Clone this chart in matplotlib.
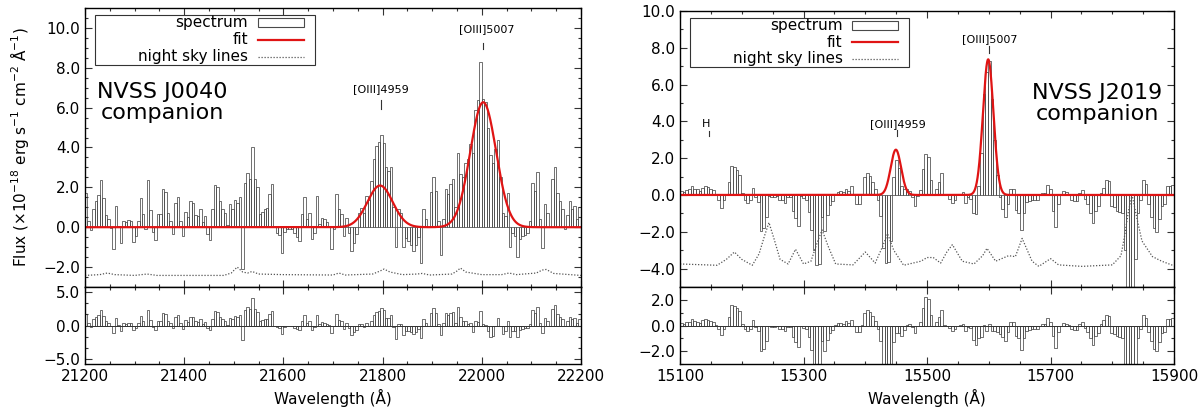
import numpy as np
import matplotlib.pyplot as plt
from matplotlib.ticker import MultipleLocator, AutoMinorLocator, FuncFormatter
from matplotlib.patches import Rectangle

plt.rcParams['font.family'] = ['DejaVu Sans']

# ---- NVSS J0040 companion (left panel) ----
j0040_start = 21200.0
j0040_bin = 5.0
j0040_flux = [
    1.7, 0.33, -0.15, 0.9, 1.3, 1.6, 2.35, 1.45, 0.63, 0.43,
    -0.05, -1.07, 1.07, 0.07, -0.8, 0.33, 0.25, 0.35, 0.3, -0.72,
    -0.43, 0.33, 1.45, 0.65, -0.1, 2.35, 0.85, -0.25, -0.65, 0.65,
    0.65, 1.9, 1.75, 0.7, 0.3, -0.35, 1.2, 1.5, 0.3, -0.45,
    0.75, 0.5, 1.3, 1.2, 0.6, 0.55, 0.9, 0.25, 0.55, -0.35,
    -0.65, 0.9, 2.1, 2.0, 1.3, 0.9, 0.7, 0.1, 1.15, 0.9,
    1.35, 1.2, 1.5, -2.1, 2.23, 2.73, 2.4, 4.0, 2.4, 2.0,
    0.65, 0.77, 0.9, 0.95, 1.65, 2.15, 0.0, -0.27, -0.4, -1.27,
    -0.23, -0.07, -0.1, -0.07, -0.3, -0.5, -0.7, 0.65, 1.53, 0.43,
    0.73, -0.6, -0.27, 1.57, 0.15, 0.48, 0.4, 0.27, 0.07, -1.07,
    -0.1, 1.65, 0.9, 0.65, -0.43, 0.48, -0.27, -1.18, -0.77, -0.35,
    0.73, 0.98, 0.73, 1.57, 1.35, 2.3, 3.4, 4.07, 4.3, 4.65,
    4.23, 3.0, 2.8, 3.0, 1.0, -1.0, 0.9, 0.73, -1.0, -0.55,
    -0.7, -0.9, -1.2, -0.9, -0.5, -1.78, 0.93, 0.43, 0.0, 1.78,
    2.53, 1.8, 0.3, -1.4, 0.4, 1.9, 1.65, 2.15, 2.43, 1.0,
    3.73, 2.65, 2.5, 3.2, 3.4, 4.2, 3.7, 5.9, 6.37, 8.27,
    6.43, 6.3, 5.0, 3.6, 3.2, 3.93, 4.4, 2.5, 0.7, 0.57,
    1.73, -1.0, -0.3, -0.45, -1.5, -0.6, -0.45, -0.4, -0.3, 0.3,
    2.23, 1.8, 2.78, 0.4, -1.05, 1.15, 0.7, 0.0, 2.4, 3.0,
    1.7, 1.3, 0.9, -0.1, 0.6, 1.3, 0.9, 1.07, 0.4, 1.0,
]
# gaussian fit components: [OIII]4959, [OIII]5007
j0040_centres = [21795.0, 22003.0]
j0040_amps = [2.09, 6.27]
j0040_sigmas = [25.5, 26.0]
j0040_ticks = [21200, 21400, 21600, 21800, 22000, 22200]
j0040_sky_wl = [21200, 21230, 21245, 21260, 21300, 21325, 21345, 21400, 21480,
                21495, 21507, 21518, 21528, 21537, 21550, 21600, 21700, 21712,
                21725, 21780, 21795, 21803, 21815, 21840, 21870, 21880, 21895,
                21940, 21950, 21957, 21968, 22000, 22040, 22055, 22070, 22110,
                22122, 22130, 22145, 22200]
j0040_sky = [-2.42, -2.38, -2.3, -2.38, -2.42, -2.35, -2.42, -2.42, -2.42,
             -2.3, -2.0, -2.25, -2.3, -2.22, -2.35, -2.38, -2.4, -2.3,
             -2.4, -2.35, -2.2, -2.1, -2.25, -2.38, -2.35, -2.32, -2.4,
             -2.35, -2.2, -2.05, -2.25, -2.38, -2.38, -2.3, -2.38, -2.3,
             -2.15, -2.12, -2.32, -2.42]

# ---- NVSS J2019 companion (right panel) ----
j2019_start = 15100.0
j2019_bin = 4.3
j2019_flux = [
    0.2, 0.15, 0.25, 0.3, 0.5, 0.33, 0.3, 0.2, 0.4, 0.5,
    0.45, 0.33, 0.25, 0.05, -0.25, -0.7, -0.25, 0.0, 0.7, 1.6,
    1.5, 1.33, 1.1, 0.1, -0.25, -0.45, -0.3, 0.4, -0.1, -0.4,
    -1.96, -1.82, -1.2, -0.05, -0.1, -0.1, -0.05, -0.25, -0.3, -0.45,
    -0.1, -0.1, -0.87, -1.25, -1.68, -0.07, -0.18, -0.3, -0.93, -1.9,
    -3.0, -3.8, -3.75, -1.2, -1.95, -1.1, -0.57, -0.32, 0.04, 0.18,
    0.23, 0.14, 0.32, 0.2, 0.46, 0.0, -0.48, -0.48, 0.07, 0.95,
    1.21, 1.05, 0.71, 0.35, -0.3, -1.14, -2.9, -3.7, -3.65, -2.5,
    1.0, 1.9, 1.45, 0.5, 0.3, 0.3, 0.2, -0.1, -0.6, -0.05,
    0.25, 1.4, 2.2, 2.05, 0.8, 0.0, 0.3, 0.7, 1.2, 0.05,
    0.0, -0.2, -0.45, -0.3, 0.0, 0.05, 0.15, -0.45, -0.1, -0.2,
    -1.0, -1.02, 0.5, 2.3, 5.5, 6.7, 7.3, 5.2, 3.0, 1.1,
    -0.1, -0.75, -1.2, -0.5, 0.3, 0.3, -0.8, -1.0, -1.9, -1.0,
    -0.4, -0.35, -0.3, -0.3, -0.3, 0.0, 0.1, 0.1, 0.55, 0.3,
    -0.85, -1.75, -0.5, 0.0, 0.2, 0.15, 0.05, -0.25, -0.35, -0.35,
    0.1, 0.25, -0.2, -0.5, -1.0, -1.5, -0.85, -0.6, 0.1, 0.4,
    0.8, 0.75, -0.6, -0.65, -0.85, -0.9, -1.0, -3.0, -6.0, -6.0,
    -6.0, -3.5, -1.0, -0.3, 0.8, 0.6, -0.5, -1.2, -1.8, -2.0,
    -1.3, -0.6, -0.5, 0.5, 0.5, 0.55,
]
j2019_centres = [15449.5, 15599.0]
j2019_amps = [2.46, 7.37]
j2019_sigmas = [8.4, 8.5]
j2019_ticks = [15100, 15300, 15500, 15700, 15900]
j2019_sky_wl = [15100, 15160, 15175, 15188, 15200, 15217, 15228, 15237, 15244,
                15252, 15262, 15275, 15287, 15300, 15312, 15322, 15330, 15340,
                15352, 15380, 15400, 15416, 15428, 15436, 15446, 15462, 15490,
                15500, 15510, 15522, 15532, 15541, 15557, 15576, 15590, 15597,
                15611, 15632, 15643, 15654, 15670, 15681, 15700, 15713, 15751,
                15800, 15814, 15820, 15826, 15832, 15840, 15848, 15865, 15880,
                15900]
j2019_sky = [-3.75, -3.82, -3.5, -3.1, -3.5, -3.82, -3.2, -2.2, -1.5,
             -2.36, -3.5, -3.75, -2.95, -3.75, -3.6, -2.6, -1.9, -2.8,
             -3.75, -3.8, -3.1, -3.7, -2.8, -2.1, -3.0, -3.82, -3.6,
             -3.4, -3.4, -3.7, -3.1, -2.7, -3.6, -3.75, -3.3, -2.9,
             -3.6, -3.3, -3.35, -2.36, -3.6, -3.88, -3.46, -3.8, -3.88,
             -3.8, -3.3, -2.2, -0.9, 0.0, -1.3, -2.5, -3.35, -3.6,
             -3.85]

RED = '#e01414'
BAR = '#4a4a4a'
SKY = '#555555'
DOTS = (0, (1, 1.4))


def gauss_fit(x, centres, amps, sigmas):
    y = np.zeros_like(x, dtype=float)
    for c, a, s in zip(centres, amps, sigmas):
        y += a * np.exp(-0.5 * ((x - c) / s) ** 2)
    return y


def fmt(v, pos):
    if abs(v) < 1e-9:
        v = 0.0
    return f'{v:.1f}'.replace('-', '\u2212')


def style_axes(ax, xticks, ymajor, yminor_n):
    ax.set_xticks(xticks)
    ax.xaxis.set_minor_locator(AutoMinorLocator(4))
    ax.yaxis.set_major_locator(MultipleLocator(ymajor))
    ax.yaxis.set_minor_locator(AutoMinorLocator(yminor_n))
    ax.yaxis.set_major_formatter(FuncFormatter(fmt))
    ax.tick_params(which='both', direction='in', top=True, right=True,
                   labelsize=11, width=0.8, color='#333333')
    ax.tick_params(which='major', length=5)
    ax.tick_params(which='minor', length=2.5)
    for sp in ax.spines.values():
        sp.set_linewidth(1.0)


def draw_key(ax):
    ax.add_patch(Rectangle((0.02, 0.797), 0.443, 0.179, transform=ax.transAxes,
                           facecolor='white', edgecolor='#333333', lw=0.8, zorder=5))
    rows = [0.947, 0.886, 0.826]
    labels = ['spectrum', 'fit', 'night sky lines']
    for y, lab in zip(rows, labels):
        ax.text(0.329, y, lab, transform=ax.transAxes, ha='right', va='center',
                fontsize=11, zorder=6)
    ax.add_patch(Rectangle((0.349, rows[0] - 0.016), 0.093, 0.032,
                           transform=ax.transAxes, facecolor='white',
                           edgecolor=BAR, lw=0.8, zorder=6))
    ax.plot([0.349, 0.442], [rows[1], rows[1]], transform=ax.transAxes,
            color=RED, lw=1.6, zorder=6)
    ax.plot([0.349, 0.442], [rows[2], rows[2]], transform=ax.transAxes,
            color=SKY, lw=0.9, ls=DOTS, zorder=6)


def draw_panel(ax, axr, start, binw, flux, centres, amps, sigmas, sky_wl, sky,
               xlim, ylim, rlim):
    flux = np.array(flux)
    mid = start + binw * (np.arange(len(flux)) + 0.5)
    fine = np.linspace(xlim[0], xlim[1], 3000)

    ax.bar(mid, flux, width=binw, fill=False, edgecolor=BAR, linewidth=0.55)
    ax.plot(sky_wl, sky, color=SKY, lw=0.9, ls=DOTS)
    ax.plot(fine, gauss_fit(fine, centres, amps, sigmas), color=RED, lw=1.6)
    ax.set_xlim(*xlim)
    ax.set_ylim(*ylim)
    ax.tick_params(labelbottom=False)

    resid = flux - gauss_fit(mid, centres, amps, sigmas)
    axr.bar(mid, resid, width=binw, fill=False, edgecolor=BAR, linewidth=0.55)
    axr.axhline(0, color='#333333', lw=0.7)
    axr.set_xlim(*xlim)
    axr.set_ylim(*rlim)
    axr.set_xlabel('Wavelength (\u00c5)', fontsize=11)


fig = plt.figure(figsize=(12, 4.17), dpi=100)

# left panel
ax1 = fig.add_axes([0.0708, 0.3118, 0.4133, 0.669])
ax1r = fig.add_axes([0.0708, 0.127, 0.4133, 0.1848])
draw_panel(ax1, ax1r, j0040_start, j0040_bin, j0040_flux, j0040_centres,
           j0040_amps, j0040_sigmas, j0040_sky_wl, j0040_sky,
           (21200, 22200), (-3.0, 11.0), (-5.7, 5.7))
style_axes(ax1, j0040_ticks, 2, 4)
style_axes(ax1r, j0040_ticks, 5, 3)
ax1.set_xlim(21200, 22200)
ax1r.set_xlim(21200, 22200)
ax1.set_ylabel('Flux ($\\times10^{-18}$ erg s$^{-1}$ cm$^{-2}$ \u00c5$^{-1}$)',
               fontsize=11, labelpad=9)
ax1.text(21356, 6.25, 'NVSS J0040\ncompanion', ha='center', va='center',
         fontsize=16, linespacing=1.1)
ax1.text(21797, 6.95, '[OIII]4959', ha='center', va='center', fontsize=8)
ax1.plot([21796, 21796], [5.95, 6.4], color='#333333', lw=0.8)
ax1.text(22010, 9.95, '[OIII]5007', ha='center', va='center', fontsize=8)
ax1.plot([22003, 22003], [8.95, 9.25], color='#333333', lw=0.8)
draw_key(ax1)

# right panel
ax2 = fig.add_axes([0.5667, 0.3118, 0.4117, 0.662])
ax2r = fig.add_axes([0.5667, 0.127, 0.4117, 0.1848])
draw_panel(ax2, ax2r, j2019_start, j2019_bin, j2019_flux, j2019_centres,
           j2019_amps, j2019_sigmas, j2019_sky_wl, j2019_sky,
           (15100, 15900), (-5.0, 10.0), (-3.0, 3.0))
style_axes(ax2, j2019_ticks, 2, 2)
style_axes(ax2r, j2019_ticks, 2, 2)
ax2.set_xlim(15100, 15900)
ax2r.set_xlim(15100, 15900)
ax2.text(15776, 4.98, 'NVSS J2019\ncompanion', ha='center', va='center',
         fontsize=16, linespacing=1.1)
ax2.text(15142, 3.86, 'H', ha='center', va='center', fontsize=8)
ax2.plot([15147, 15147], [3.2, 3.5], color='#333333', lw=0.8)
ax2.text(15452, 3.86, '[OIII]4959', ha='center', va='center', fontsize=8)
ax2.plot([15452, 15452], [3.2, 3.53], color='#333333', lw=0.8)
ax2.text(15601, 8.46, '[OIII]5007', ha='center', va='center', fontsize=8)
ax2.plot([15601, 15601], [7.7, 8.1], color='#333333', lw=0.8)
draw_key(ax2)

fig.savefig('out.png', dpi=100)
